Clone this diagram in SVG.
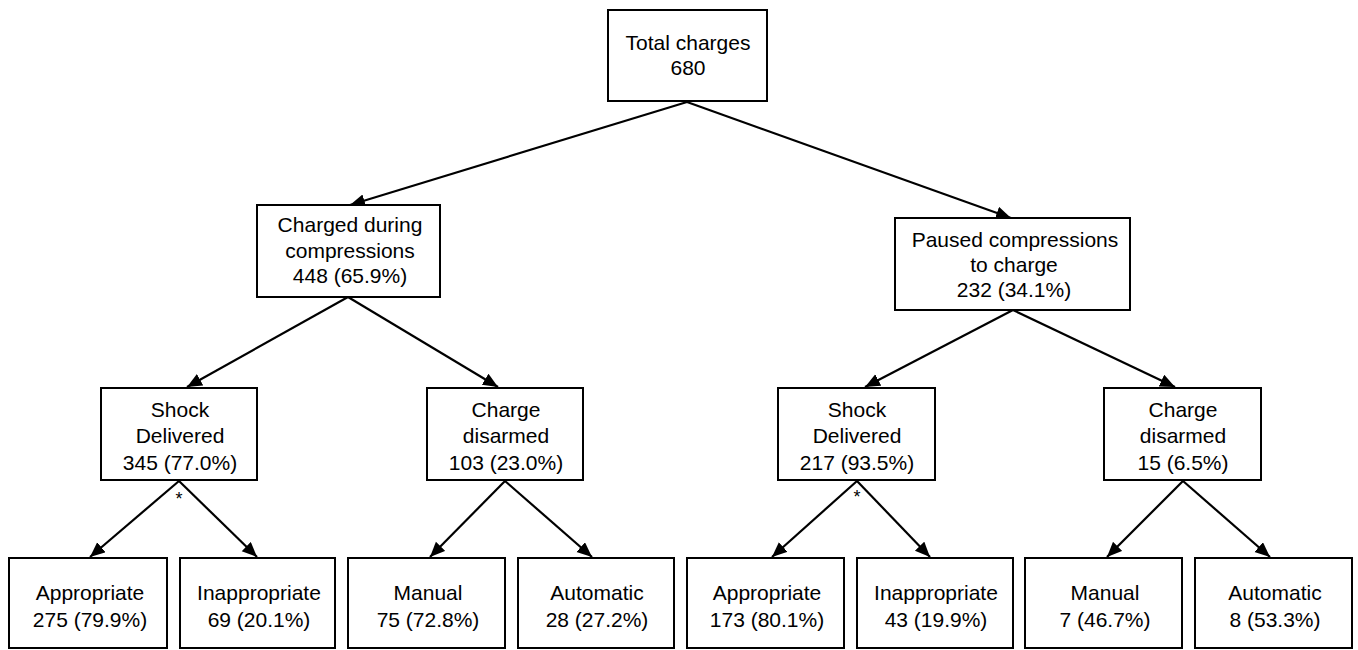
<svg xmlns="http://www.w3.org/2000/svg" width="1358" height="650" viewBox="0 0 1358 650">
<style>
.box{fill:#fff;stroke:#000;stroke-width:2}
.t{font-family:"Liberation Sans",Arial,sans-serif;font-size:21px;fill:#000;text-anchor:middle}
.s{font-family:"Liberation Sans",Arial,sans-serif;font-size:18px;fill:#000;text-anchor:middle}
.c{stroke:#000;stroke-width:2.2;fill:none;marker-end:url(#ah)}
</style>
<defs>
<marker id="ah" markerUnits="userSpaceOnUse" markerWidth="16" markerHeight="14" refX="15" refY="6.5" orient="auto">
<path d="M0,0 L15,6.5 L0,13 z" fill="#000"/>
</marker>
</defs>
<rect width="1358" height="650" fill="#fff"/>
<g id="connectors">
<line class="c" x1="687" y1="102" x2="350" y2="205"/>
<line class="c" x1="687" y1="102" x2="1011" y2="218"/>
<line class="c" x1="348" y1="297" x2="187" y2="387"/>
<line class="c" x1="348" y1="297" x2="498" y2="387"/>
<line class="c" x1="1013" y1="310" x2="865" y2="387"/>
<line class="c" x1="1013" y1="310" x2="1175" y2="387"/>
<line class="c" x1="179" y1="481" x2="90" y2="557"/>
<line class="c" x1="179" y1="481" x2="257" y2="557"/>
<line class="c" x1="505" y1="481" x2="430" y2="557"/>
<line class="c" x1="505" y1="481" x2="592" y2="557"/>
<line class="c" x1="857" y1="481" x2="772" y2="557"/>
<line class="c" x1="857" y1="481" x2="930" y2="557"/>
<line class="c" x1="1183" y1="481" x2="1107" y2="557"/>
<line class="c" x1="1183" y1="481" x2="1270" y2="557"/>
<text class="s" x="179" y="505">*</text>
<text class="s" x="857" y="503">*</text>
</g>
<g id="total">
<rect class="box" x="608" y="10" width="159" height="91"/>
<text class="t" x="688" y="50">Total charges</text>
<text class="t" x="688" y="75">680</text>
</g>
<g id="during">
<rect class="box" x="257" y="205" width="183" height="92"/>
<text class="t" x="350" y="232">Charged during</text>
<text class="t" x="350" y="258">compressions</text>
<text class="t" x="350" y="283">448 (65.9%)</text>
</g>
<g id="paused">
<rect class="box" x="895" y="218" width="235" height="92"/>
<text class="t" x="1015" y="247">Paused compressions</text>
<text class="t" x="1014" y="272">to charge</text>
<text class="t" x="1014" y="297">232 (34.1%)</text>
</g>
<g id="shockL">
<rect class="box" x="101" y="388" width="156" height="92"/>
<text class="t" x="180" y="417">Shock</text>
<text class="t" x="180" y="443">Delivered</text>
<text class="t" x="180" y="470">345 (77.0%)</text>
</g>
<g id="disarmL">
<rect class="box" x="427" y="388" width="156" height="92"/>
<text class="t" x="506" y="417">Charge</text>
<text class="t" x="506" y="443">disarmed</text>
<text class="t" x="506" y="470">103 (23.0%)</text>
</g>
<g id="shockR">
<rect class="box" x="778" y="388" width="157" height="92"/>
<text class="t" x="857" y="417">Shock</text>
<text class="t" x="857" y="443">Delivered</text>
<text class="t" x="857" y="470">217 (93.5%)</text>
</g>
<g id="disarmR">
<rect class="box" x="1104" y="388" width="157" height="92"/>
<text class="t" x="1183" y="417">Charge</text>
<text class="t" x="1183" y="443">disarmed</text>
<text class="t" x="1183" y="470">15 (6.5%)</text>
</g>
<g id="approL">
<rect class="box" x="9" y="558" width="158" height="90"/>
<text class="t" x="90" y="600">Appropriate</text>
<text class="t" x="90" y="627">275 (79.9%)</text>
</g>
<g id="inapL">
<rect class="box" x="180" y="558" width="155" height="90"/>
<text class="t" x="259" y="600">Inappropriate</text>
<text class="t" x="259" y="627">69 (20.1%)</text>
</g>
<g id="manualL">
<rect class="box" x="348" y="558" width="157" height="90"/>
<text class="t" x="428" y="600">Manual</text>
<text class="t" x="428" y="627">75 (72.8%)</text>
</g>
<g id="autoL">
<rect class="box" x="518" y="558" width="156" height="90"/>
<text class="t" x="597" y="600">Automatic</text>
<text class="t" x="597" y="627">28 (27.2%)</text>
</g>
<g id="approR">
<rect class="box" x="687" y="558" width="157" height="90"/>
<text class="t" x="767" y="600">Appropriate</text>
<text class="t" x="767" y="627">173 (80.1%)</text>
</g>
<g id="inapR">
<rect class="box" x="857" y="558" width="156" height="90"/>
<text class="t" x="936" y="600">Inappropriate</text>
<text class="t" x="936" y="627">43 (19.9%)</text>
</g>
<g id="manualR">
<rect class="box" x="1025" y="558" width="157" height="90"/>
<text class="t" x="1105" y="600">Manual</text>
<text class="t" x="1105" y="627">7 (46.7%)</text>
</g>
<g id="autoR">
<rect class="box" x="1195" y="558" width="157" height="90"/>
<text class="t" x="1275" y="600">Automatic</text>
<text class="t" x="1275" y="627">8 (53.3%)</text>
</g>
</svg>
